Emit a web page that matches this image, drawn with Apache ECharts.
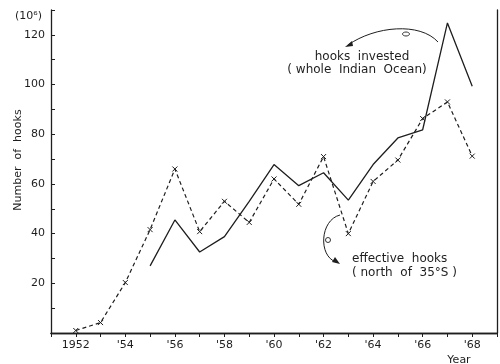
<!DOCTYPE html>
<html>
<head>
<meta charset="utf-8">
<title>Number of hooks, Indian Ocean longline fishery</title>
<script src="https://cdn.jsdelivr.net/npm/echarts@6/dist/echarts.min.js"></script>
<style>
  html, body { margin: 0; padding: 0; background: #ffffff; }
  #chart { width: 500px; height: 364px; }
</style>
</head>
<body>
<div id="chart"></div>
<script>
// Fishing years shown on the chart
var years = [1952, 1953, 1954, 1955, 1956, 1957, 1958, 1959, 1960, 1961, 1962, 1963, 1964, 1965, 1966, 1967, 1968];

// Hooks invested, whole Indian Ocean (10^6 hooks); no record before 1955
var hooksInvested = [null, null, null, 27, 45.5, 32.6, 38.8, 53, 67.8, 59.3, 64.5, 53.5, 67.8, 78.5, 81.8, 124.8, 99.3];

// Effective hooks, north of 35°S (10^6 hooks)
var effectiveHooks = [1, 4.2, 20.3, 41.6, 66, 40.8, 53, 44.5, 62, 51.8, 71, 40, 61, 69.6, 86.3, 93, 71.2];

// Year tick labels (only even years are labelled)
var yearLabels = { 1952: '1952', 1954: "'54", 1956: "'56", 1958: "'58", 1960: "'60", 1962: "'62", 1964: "'64", 1966: "'66", 1968: "'68" };

// Labelled values on the hooks axis
var hookLabels = [20, 40, 60, 80, 100, 120];

var ink = '#1e1e1e';
var fontFamily = 'DejaVu Sans';

function pairs(values) {
  return years.map(function (y, i) { return [y, values[i]]; });
}

var cross = 'path://M0,0L10,10M10,0L0,10';

var chart = echarts.init(document.getElementById('chart'), null, { renderer: 'canvas' });

var option = {
  backgroundColor: '#ffffff',
  animation: false,
  grid: { left: 51, right: 1, top: 10, bottom: 31, containLabel: false },
  xAxis: [
    {
      type: 'value', min: 1951, max: 1969, interval: 1,
      axisLine: { show: true, lineStyle: { color: ink, width: 1.3 } },
      axisTick: { show: true, inside: false, length: 4, lineStyle: { color: ink, width: 1 } },
      splitLine: { show: false },
      axisLabel: {
        color: ink, fontFamily: fontFamily, fontSize: 11, margin: 7,
        formatter: function (v) { return yearLabels[v] || ''; }
      }
    },
    {
      type: 'value', position: 'top', min: 1951, max: 1969, interval: 1,
      axisLine: { show: true, lineStyle: { color: ink, width: 1.3 } },
      axisTick: { show: true, inside: true, length: 4, lineStyle: { color: ink, width: 1 } },
      splitLine: { show: false },
      axisLabel: { show: false }
    }
  ],
  yAxis: [
    {
      type: 'value', min: 0, max: 130, interval: 10,
      axisLine: { show: true, lineStyle: { color: ink, width: 1.3 } },
      axisTick: { show: true, inside: true, length: 4, lineStyle: { color: ink, width: 1 } },
      splitLine: { show: false },
      axisLabel: {
        color: ink, fontFamily: fontFamily, fontSize: 11, margin: 6,
        formatter: function (v) { return hookLabels.indexOf(v) >= 0 ? String(v) : ''; }
      }
    },
    {
      type: 'value', position: 'right', min: 0, max: 130,
      axisLine: { show: true, lineStyle: { color: ink, width: 1.3 } },
      axisTick: { show: false },
      splitLine: { show: false },
      axisLabel: { show: false }
    }
  ],
  series: [
    {
      name: 'hooks invested (whole Indian Ocean)',
      type: 'line',
      data: pairs(hooksInvested),
      connectNulls: false,
      symbol: 'none',
      lineStyle: { color: ink, width: 1.3, type: 'solid' },
      z: 3
    },
    {
      name: 'effective hooks (north of 35°S)',
      type: 'line',
      data: pairs(effectiveHooks),
      symbol: cross,
      symbolSize: 5,
      itemStyle: { color: 'rgba(0,0,0,0)', borderColor: ink, borderWidth: 1 },
      lineStyle: { color: ink, width: 1.2, type: [4, 3] },
      z: 2
    }
  ],
  graphic: [
    // unit and axis titles
    { type: 'text', left: 15, top: 11, style: { text: '(10⁶)', font: '11px ' + fontFamily, fill: ink } },
    {
      type: 'text', x: 18, y: 160, rotation: Math.PI / 2,
      style: { text: 'Number  of  hooks', font: '11px ' + fontFamily, fill: ink, align: 'center', verticalAlign: 'middle' }
    },
    { type: 'text', x: 459, y: 360, style: { text: 'Year', font: '11px ' + fontFamily, fill: ink, align: 'center', verticalAlign: 'middle' } },

    // label for the solid curve
    { type: 'text', x: 362, y: 57, style: { text: 'hooks  invested', font: '12px ' + fontFamily, fill: ink, align: 'center', verticalAlign: 'middle' } },
    { type: 'text', x: 357, y: 70, style: { text: '( whole  Indian  Ocean)', font: '12px ' + fontFamily, fill: ink, align: 'center', verticalAlign: 'middle' } },
    {
      type: 'bezierCurve',
      shape: { x1: 438, y1: 42, cpx1: 420, cpy1: 22, cpx2: 375, cpy2: 26, x2: 348, y2: 45 },
      style: { stroke: ink, lineWidth: 1, fill: null }
    },
    { type: 'ellipse', shape: { cx: 406, cy: 34, rx: 3.5, ry: 2 }, style: { stroke: ink, lineWidth: 0.9, fill: null } },
    { type: 'polygon', shape: { points: [[345, 47], [352, 41], [353, 46]] }, style: { fill: ink } },

    // label for the dashed curve
    { type: 'text', x: 352, y: 259, style: { text: 'effective  hooks', font: '12px ' + fontFamily, fill: ink, align: 'left', verticalAlign: 'middle' } },
    { type: 'text', x: 352, y: 273, style: { text: '( north  of  35°S )', font: '12px ' + fontFamily, fill: ink, align: 'left', verticalAlign: 'middle' } },
    {
      type: 'bezierCurve',
      shape: { x1: 340, y1: 215, cpx1: 320, cpy1: 220, cpx2: 318, cpy2: 256, x2: 336, y2: 262 },
      style: { stroke: ink, lineWidth: 1, fill: null }
    },
    { type: 'circle', shape: { cx: 328, cy: 240, r: 2.5 }, style: { stroke: ink, lineWidth: 0.9, fill: '#fff' } },
    { type: 'polygon', shape: { points: [[340, 264], [332, 262], [335, 257]] }, style: { fill: ink } }
  ]
};

chart.setOption(option);
</script>
</body>
</html>
